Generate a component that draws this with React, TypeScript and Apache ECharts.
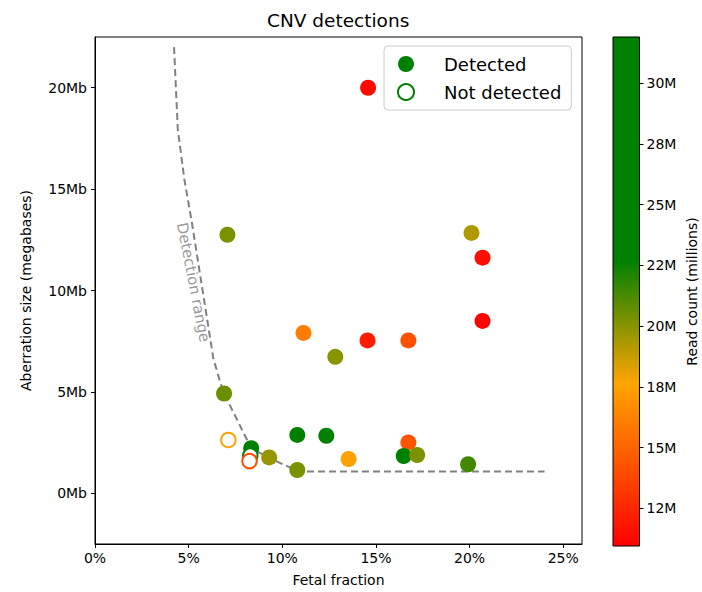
import React, { useEffect, useRef } from "react";
import * as echarts from "echarts";

// ---- data ----
const detectedFF = [0.1458, 0.0707, 0.201, 0.2069, 0.2069, 0.1113, 0.1283, 0.1455, 0.1673, 0.0689, 0.108, 0.1235, 0.1673, 0.1648, 0.172, 0.1354, 0.1992, 0.093, 0.108, 0.0834];
const detectedSize = [20.0, 12.75, 12.84, 11.62, 8.5, 7.91, 6.73, 7.54, 7.54, 4.92, 2.88, 2.84, 2.51, 1.84, 1.89, 1.69, 1.43, 1.77, 1.15, 2.22];
const detectedReads = [11.3, 20.3, 19.2, 11.5, 11.1, 16.0, 20.0, 12.1, 14.2, 20.6, 25.0, 27.0, 14.3, 24.0, 20.2, 17.5, 21.4, 19.7, 20.3, 23.0];

const notDetectedFF = [0.0712, 0.0829, 0.0825];
const notDetectedSize = [2.63, 1.86, 1.59];
const notDetectedReads = [17.6, 24.0, 14.1];

const rangeFF = [0.0422, 0.0442, 0.0477, 0.0517, 0.0632, 0.0668, 0.0689, 0.0834, 0.0935, 0.108, 0.11, 0.24];
const rangeSize = [22.0, 17.95, 15.49, 13.36, 6.64, 5.5, 4.92, 2.22, 1.72, 1.11, 1.07, 1.07];

const xTicks = [0, 0.05, 0.1, 0.15, 0.2, 0.25];
const yTicks = [0, 5, 10, 15, 20];
const cbTicks = [12.5, 15, 17.5, 20, 22.5, 25, 27.5, 30];
const cbTickLabels = ["12M", "15M", "18M", "20M", "22M", "25M", "28M", "30M"];
const cbMin = 10.95;
const cbMax = 31.9;

// colormap anchors (read count in millions -> colour)
const cmapValues = [cbMin, 17.65, 22.7, cbMax];
const cmapColors: number[][] = [
  [255, 0, 0],
  [255, 165, 0],
  [0, 128, 0],
  [0, 128, 0],
];

const FONT = "DejaVu Sans";

function colorAt(v: number): string {
  let i = 0;
  while (i < cmapValues.length - 2 && v > cmapValues[i + 1]) i++;
  const t = Math.max(0, Math.min(1, (v - cmapValues[i]) / (cmapValues[i + 1] - cmapValues[i])));
  const a = cmapColors[i];
  const b = cmapColors[i + 1];
  const c = a.map((x, k) => Math.round(x + (b[k] - x) * t));
  return `rgb(${c[0]},${c[1]},${c[2]})`;
}

export default function App() {
  const ref = useRef<HTMLDivElement>(null);
  useEffect(() => {
    document.body.style.margin = "0";
    if (!ref.current) return;
    const chart = echarts.init(ref.current, null, { renderer: "svg" });

    const sampled: string[] = [];
    const N = 80;
    for (let k = 0; k <= N; k++) sampled.push(colorAt(cbMin + ((cbMax - cbMin) * k) / N));

    const gradient = new echarts.graphic.LinearGradient(
      0, 1, 0, 0,
      cmapValues.map((v, k) => ({
        offset: (v - cbMin) / (cbMax - cbMin),
        color: `rgb(${cmapColors[k].join(",")})`,
      }))
    );

    const det = detectedFF.map((x, i) => [x, detectedSize[i], detectedReads[i]]);
    const nd = notDetectedFF.map((x, i) => [x, notDetectedSize[i], notDetectedReads[i]]);
    const range = rangeFF.map((x, i) => [x, rangeSize[i]]);

    chart.setOption({
      animation: false,
      title: {
        text: "CNV detections",
        left: 267,
        top: 11,
        padding: 0,
        textStyle: { fontFamily: FONT, fontSize: 18.5, fontWeight: "normal", color: "#000" },
      },
      legend: {
        left: 384,
        top: 46,
        orient: "vertical",
        padding: [8, 10, 8, 13],
        itemWidth: 24,
        itemHeight: 16,
        itemGap: 8,
        borderColor: "#cccccc",
        borderWidth: 1,
        borderRadius: 4,
        backgroundColor: "rgba(255,255,255,0.8)",
        textStyle: { fontFamily: FONT, fontSize: 18, color: "#000", lineHeight: 20, padding: [0, 0, 0, 21] },
        data: [
          { name: "Detected", icon: "circle", itemStyle: { color: "#008000" } },
          { name: "Not detected", icon: "emptyCircle", itemStyle: { color: "#008000", borderWidth: 1.5 } },
        ],
      },
      visualMap: {
        type: "continuous",
        show: false,
        min: cbMin,
        max: cbMax,
        dimension: 2,
        seriesIndex: [0, 1],
        inRange: { color: sampled },
      },
      grid: [
        { left: 95, top: 37, right: 120, bottom: 46, show: true, borderColor: "#000", borderWidth: 1, backgroundColor: "transparent" },
        { left: 613, top: 37, right: 62.5, bottom: 46, show: false },
      ],
      xAxis: [
        {
          type: "value",
          gridIndex: 0,
          min: 0,
          max: 0.26,
          name: "Fetal fraction",
          nameLocation: "middle",
          nameGap: 29,
          nameTextStyle: { fontFamily: FONT, fontSize: 14, color: "#000" },
          splitLine: { show: false },
          axisLine: { show: true, onZero: false, lineStyle: { color: "#000", width: 1 } },
          axisTick: { show: true, length: 4, lineStyle: { color: "#000" }, customValues: xTicks },
          axisLabel: {
            fontFamily: FONT,
            fontSize: 14,
            color: "#000",
            margin: 7,
            customValues: xTicks,
            formatter: (v: number) => `${Math.round(v * 100)}%`,
          },
        },
        { type: "value", gridIndex: 1, min: 0, max: 1, show: false },
      ],
      yAxis: [
        {
          type: "value",
          gridIndex: 0,
          min: -2.5,
          max: 22.5,
          name: "Aberration size (megabases)",
          nameLocation: "middle",
          nameGap: 62,
          nameRotate: 90,
          nameTextStyle: { fontFamily: FONT, fontSize: 14, color: "#000" },
          splitLine: { show: false },
          axisLine: { show: true, onZero: false, lineStyle: { color: "#000", width: 1 } },
          axisTick: { show: true, length: 4, lineStyle: { color: "#000" }, customValues: yTicks },
          axisLabel: {
            fontFamily: FONT,
            fontSize: 14,
            color: "#000",
            margin: 8,
            customValues: yTicks,
            formatter: (v: number) => `${v}Mb`,
          },
        },
        {
          type: "value",
          gridIndex: 1,
          position: "right",
          min: cbMin,
          max: cbMax,
          name: "Read count (millions)",
          nameLocation: "middle",
          nameGap: 45,
          nameRotate: 90,
          nameTextStyle: { fontFamily: FONT, fontSize: 14, color: "#000" },
          splitLine: { show: false },
          axisLine: { show: false, onZero: false },
          axisTick: { show: true, length: 4, lineStyle: { color: "#000" }, customValues: cbTicks },
          axisLabel: {
            fontFamily: FONT,
            fontSize: 14,
            color: "#000",
            margin: 7,
            customValues: cbTicks,
            formatter: (v: number) => {
              const idx = cbTicks.findIndex((t) => Math.abs(t - v) < 1e-6);
              return idx >= 0 ? cbTickLabels[idx] : "";
            },
          },
        },
      ],
      series: [
        {
          name: "Detected",
          type: "scatter",
          xAxisIndex: 0,
          yAxisIndex: 0,
          symbol: "circle",
          symbolSize: 16,
          itemStyle: { color: "#008000", opacity: 1 },
          data: det,
          z: 3,
        },
        {
          name: "Not detected",
          type: "scatter",
          xAxisIndex: 0,
          yAxisIndex: 0,
          symbol: "emptyCircle",
          symbolSize: 14.5,
          itemStyle: { color: "#008000", borderWidth: 1.5, opacity: 1 },
          data: nd,
          z: 4,
        },
        {
          name: "Detection range",
          type: "line",
          xAxisIndex: 0,
          yAxisIndex: 0,
          showSymbol: false,
          symbol: "none",
          lineStyle: { color: "#808080", width: 2, type: [7, 4] },
          data: range,
          z: 2,
          silent: true,
        },
        {
          name: "rangeLabel",
          type: "scatter",
          xAxisIndex: 0,
          yAxisIndex: 0,
          symbolSize: 0,
          silent: true,
          data: [[0.0525, 10.4]],
          label: {
            show: true,
            position: "inside",
            rotate: -79,
            formatter: "Detection range",
            fontFamily: FONT,
            fontSize: 15,
            color: "#808080",
          },
          z: 1,
        },
        {
          name: "colorbar",
          type: "custom",
          xAxisIndex: 1,
          yAxisIndex: 1,
          silent: true,
          clip: false,
          encode: { x: [0, 2], y: [1, 3] },
          data: [[0, cbMin, 1, cbMax]],
          renderItem: (params: any, api: any) => {
            const tl = api.coord([api.value(0), api.value(3)]);
            const br = api.coord([api.value(2), api.value(1)]);
            return {
              type: "rect",
              shape: { x: tl[0], y: tl[1], width: br[0] - tl[0], height: br[1] - tl[1] },
              style: { fill: gradient, stroke: "#000", lineWidth: 1 },
            };
          },
        },
      ],
    });
    return () => chart.dispose();
  }, []);
  return <div ref={ref} style={{ width: 702, height: 592 }} />;
}
